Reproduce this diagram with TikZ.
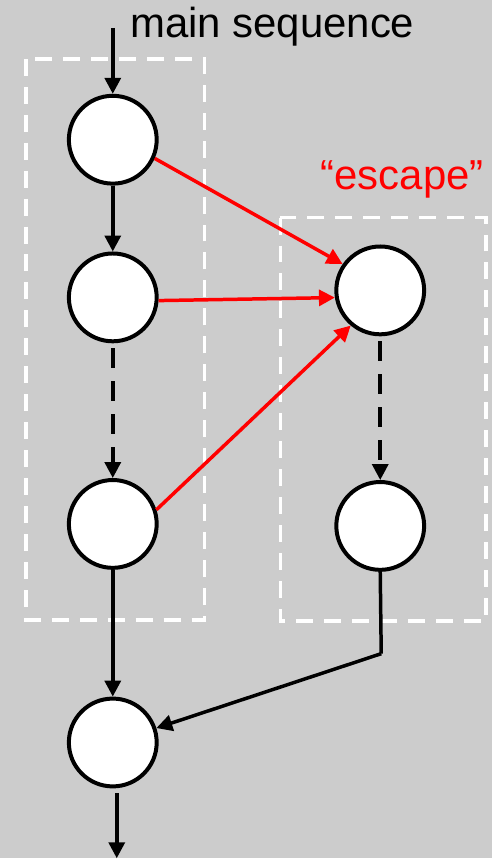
\documentclass[tikz,border=0pt]{standalone}
\usepackage{fontspec}
\setmainfont{Liberation Sans}
\usetikzlibrary{arrows.meta}
\definecolor{bggray}{HTML}{CCCCCC}
\begin{document}
\begin{tikzpicture}[x=.2mm,y=-.2mm,
	state/.style={circle,draw,fill=white,line width=.8mm,minimum size=17.6mm,inner sep=0pt},
	flow/.style={line width=.7mm,-{Triangle[length=3.2mm,width=3.2mm]}},
	jump/.style={flow,red},
	skip/.style={flow,dash pattern=on 4mm off 2.6mm,shorten <=1mm},
	frame/.style={white,line width=.75mm,dash pattern=on 3.4mm off 2.2mm},
	lbl/.style={font=\fontsize{23.9}{28}\selectfont,inner sep=0pt,anchor=base west}]
	\fill[bggray] (0,0) rectangle (493,860);
	\draw[frame] (26,59) rectangle (205,621);   % main block
	\draw[frame] (281,218) rectangle (487,622); % escape block
	\path
	(113,140) node[state] (A) {}          % <<< main chain
	(113,298) node[state] (B) {}
	(113,525) node[state] (C) {}
	(381,291) node[state] (E) {}          % <<< escape chain
	(381,527) node[state] (F) {}
	(113,744) node[state] (M) {}          % <<< join
	(130,38) node[lbl] (main) {main sequence}
	(321,190) node[lbl,red] (esc) {“escape”};
	\coordinate (in) at (113,28);
	\coordinate (out) at (117,860);
	\coordinate (bend) at (382,655);
	\draw[flow] (in)--(A);
	\draw[flow] (A)--(B);
	\draw[skip] (B)--(C);
	\draw[flow] (C)--(M);
	\draw[skip] (E)--(F);
	\draw[line width=.7mm] (F.south)--(bend);
	\draw[flow] (bend)--(M);
	\draw[flow,shorten <=1mm] (out |- M.south)--(out);
	\draw[jump] (A.-24)--(E.145);
	\draw[jump] (B.-4)--(E.189);
	\draw[jump] (C.18)--(E.230);
\end{tikzpicture}
\end{document}
